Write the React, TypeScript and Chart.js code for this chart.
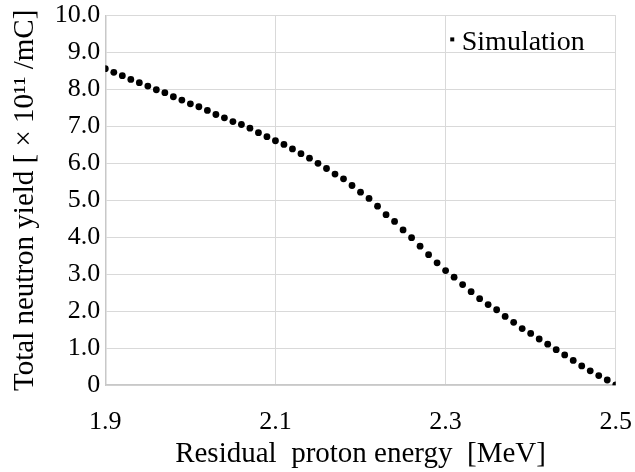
import React, { useEffect, useRef } from "react";
import { Chart, registerables } from "chart.js";

Chart.register(...registerables);

const ENERGY = [
  1.9, 1.91, 1.92, 1.93, 1.94, 1.95, 1.96, 1.97, 1.98, 1.99,
  2.0, 2.01, 2.02, 2.03, 2.04, 2.05, 2.06, 2.07, 2.08, 2.09,
  2.1, 2.11, 2.12, 2.13, 2.14, 2.15, 2.16, 2.17, 2.18, 2.19,
  2.2, 2.21, 2.22, 2.23, 2.24, 2.25, 2.26, 2.27, 2.28, 2.29,
  2.3, 2.31, 2.32, 2.33, 2.34, 2.35, 2.36, 2.37, 2.38, 2.39,
  2.4, 2.41, 2.42, 2.43, 2.44, 2.45, 2.46, 2.47, 2.48, 2.49,
  2.5,
];
const YIELD = [
  8.56, 8.46, 8.37, 8.27, 8.18, 8.09, 7.99, 7.91, 7.8, 7.71,
  7.61, 7.53, 7.43, 7.32, 7.23, 7.13, 7.05, 6.95, 6.83, 6.72,
  6.61, 6.51, 6.39, 6.26, 6.14, 6.0, 5.86, 5.71, 5.58, 5.4,
  5.22, 5.05, 4.84, 4.61, 4.43, 4.2, 3.99, 3.76, 3.53, 3.31,
  3.1, 2.92, 2.72, 2.53, 2.34, 2.18, 2.04, 1.86, 1.7, 1.53,
  1.4, 1.25, 1.11, 0.96, 0.82, 0.67, 0.52, 0.39, 0.26, 0.14,
  0.01,
];
const X_TICKS = [1.9, 2.1, 2.3, 2.5];
const Y_TICKS = [0, 1, 2, 3, 4, 5, 6, 7, 8, 9, 10];
const SERIES_LABEL = "Simulation";
const X_TITLE = "Residual  proton energy  [MeV]";
const Y_TITLE = "Total neutron yield [ \u00D7 10\u00B9\u00B9 /mC]";

const FONT = "'Liberation Serif', 'Times New Roman', serif";

const legendPlugin = {
  id: "insideLegend",
  afterDraw(chart: any) {
    const { ctx, chartArea } = chart;
    ctx.save();
    ctx.fillStyle = "#000";
    ctx.fillRect(chartArea.right - 165.5, chartArea.top + 22, 4, 4);
    ctx.font = `28px ${FONT}`;
    ctx.textBaseline = "alphabetic";
    ctx.textAlign = "left";
    ctx.fillText(SERIES_LABEL, chartArea.right - 154, chartArea.top + 35);
    ctx.restore();
  },
};

export default function App() {
  const ref = useRef<HTMLCanvasElement | null>(null);

  useEffect(() => {
    document.body.style.margin = "0";
    const canvas = ref.current;
    if (!canvas) return;
    const chart = new Chart(canvas, {
      type: "scatter",
      data: {
        datasets: [
          {
            label: SERIES_LABEL,
            data: ENERGY.map((x, i) => ({ x, y: YIELD[i] })),
            backgroundColor: "#000",
            borderColor: "#000",
            pointRadius: 3.4,
            pointHoverRadius: 3.4,
            pointBorderWidth: 0,
            showLine: false,
          },
        ],
      },
      plugins: [legendPlugin],
      options: {
        animation: false,
        responsive: false,
        maintainAspectRatio: false,
        layout: { padding: { left: 8, right: 0, top: 0, bottom: 0 } },
        plugins: {
          tooltip: { enabled: false },
          legend: { display: false },
        },
        scales: {
          x: {
            type: "linear",
            min: 1.9,
            max: 2.5,
            afterBuildTicks: (scale: any) => {
              scale.ticks = X_TICKS.map((v) => ({ value: v }));
            },
            ticks: {
              color: "#000",
              font: { family: FONT, size: 26, lineHeight: "68px" },
              padding: 3,
              maxRotation: 0,
              callback: (v: any) => Number(v).toFixed(1),
            },
            grid: { color: "#d9d9d9", lineWidth: 1, drawTicks: false },
            border: { color: "#c8c8c8", width: 1.5 },
            title: {
              display: true,
              text: X_TITLE,
              color: "#000",
              font: { family: FONT, size: 29 },
              padding: { top: -22, bottom: 0 },
            },
          },
          y: {
            type: "linear",
            min: 0,
            max: 10,
            afterBuildTicks: (scale: any) => {
              scale.ticks = Y_TICKS.map((v) => ({ value: v }));
            },
            ticks: {
              color: "#000",
              font: { family: FONT, size: 26, lineHeight: 0.8 },
              padding: 5,
              callback: (v: any) => (Number(v) === 0 ? "0" : Number(v).toFixed(1)),
            },
            grid: { color: "#d9d9d9", lineWidth: 1, drawTicks: false },
            border: { color: "#c8c8c8", width: 1.5 },
            title: {
              display: true,
              text: Y_TITLE,
              color: "#000",
              font: { family: FONT, size: 29 },
              padding: { top: 0, bottom: 7 },
            },
          },
        },
      },
    });
    return () => chart.destroy();
  }, []);

  return (
    <div style={{ position: "relative", width: 635, height: 472, background: "#fff" }}>
      <canvas ref={ref} width={635} height={472} style={{ width: 635, height: 472, display: "block" }} />
    </div>
  );
}
